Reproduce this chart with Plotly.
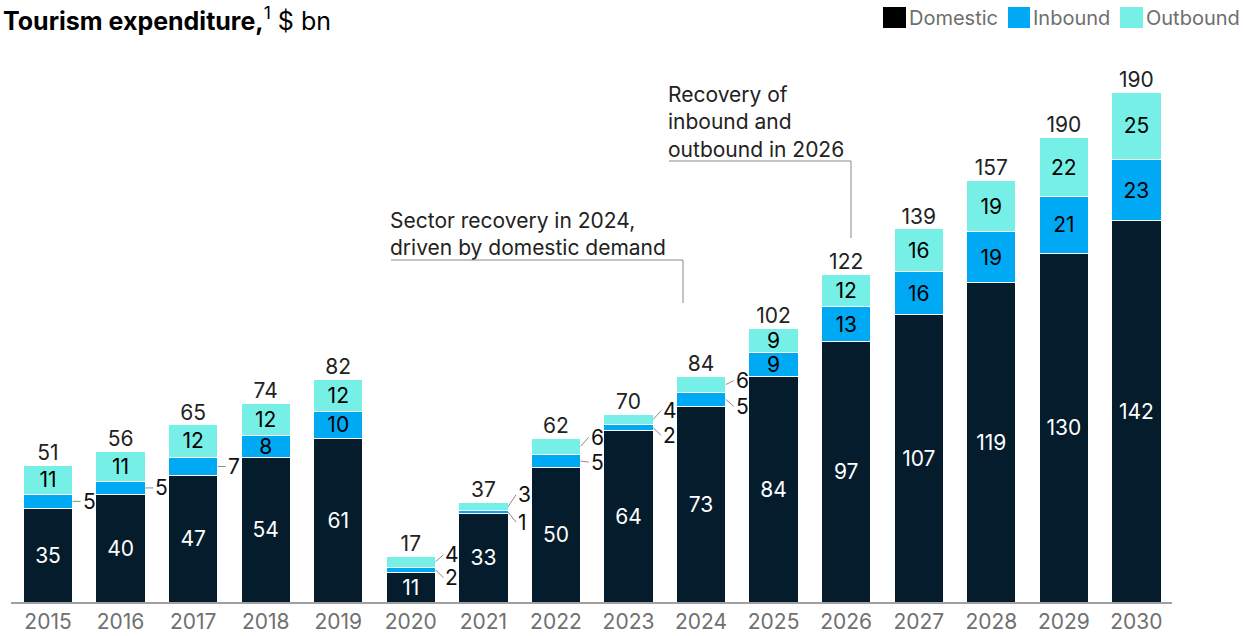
import plotly.graph_objects as go

years = [2015, 2016, 2017, 2018, 2019, 2020, 2021, 2022, 2023, 2024, 2025, 2026, 2027, 2028, 2029, 2030]
domestic = [35, 40, 47, 54, 61, 11, 33, 50, 64, 73, 84, 97, 107, 119, 130, 142]
inbound = [5, 5, 7, 8, 10, 2, 1, 5, 2, 5, 9, 13, 16, 19, 21, 23]
outbound = [11, 11, 12, 12, 12, 4, 3, 6, 4, 6, 9, 12, 16, 19, 22, 25]
total_labels = ["51", "56", "65", "74", "82", "17", "37", "62", "70", "84", "102", "122", "139", "157", "190", "190"]
tick_labels = [str(y) for y in years]

C_DOM = "#051C2C"
C_IN = "#00A9F4"
C_OUT = "#76F0E6"
FONT = "Inter, Liberation Sans, Arial, sans-serif"
FS = 21
BAR_W = 0.68
OUTSIDE_MAX = 7  # segments this small get an outside label with a leader line

# pixel geometry of the plot area
W, H = 1245, 636
ML, MR, MT, MB = 11, 73, 25, 34
PW, PH = W - ML - MR, H - MT - MB


def px(x):
    return (x - ML) / PW


def py(y):
    return (H - MB - y) / PH


def inside_text(vals):
    return [str(v) if v > OUTSIDE_MAX else "" for v in vals]


fig = go.Figure()
for name, vals, col, tcol in [
    ("Domestic", domestic, C_DOM, "white"),
    ("Inbound", inbound, C_IN, "black"),
    ("Outbound", outbound, C_OUT, "black"),
]:
    fig.add_trace(go.Bar(
        x=years, y=vals, name=name, width=BAR_W,
        marker=dict(color=col, line=dict(color="white", width=1)),
        text=inside_text(vals), textposition="inside", insidetextanchor="middle",
        constraintext="none", textangle=0,
        textfont=dict(family=FONT, size=FS, color=tcol),
        hoverinfo="skip", showlegend=False,
    ))

stack_tops = [d + i + o for d, i, o in zip(domestic, inbound, outbound)]
fig.add_trace(go.Scatter(
    x=years, y=stack_tops, text=total_labels, mode="text", textposition="top center",
    textfont=dict(family=FONT, size=FS, color="#222222"), showlegend=False, hoverinfo="skip",
))

# vertical nudges (px) for outside labels, keyed by (year, series)
nudge = {
    (2020, "in"): 8, (2020, "out"): -7,
    (2021, "in"): 10, (2021, "out"): -12,
    (2022, "in"): 1, (2022, "out"): -9,
    (2023, "in"): 8, (2023, "out"): -9,
    (2024, "in"): 7, (2024, "out"): -4,
}

annotations = []
for i, yr in enumerate(years):
    d, b, o = domestic[i], inbound[i], outbound[i]
    for key, val, mid in [("in", b, d + b / 2), ("out", o, d + b + o / 2)]:
        if val <= OUTSIDE_MAX:
            annotations.append(dict(
                x=yr + BAR_W / 2, y=mid, xref="x", yref="y",
                text=str(val), showarrow=True, arrowhead=0, arrowwidth=1,
                arrowcolor="#8a8a8a", ax=8, ay=nudge.get((yr, key), 0),
                xanchor="left", yanchor="middle", standoff=0,
                font=dict(family=FONT, size=FS, color="#111111"),
            ))

# title
annotations.append(dict(
    x=px(1), y=py(19), xref="paper", yref="paper", xanchor="left", yanchor="middle",
    text="<b>Tourism expenditure,</b><sup>1</sup> $ bn", showarrow=False,
    font=dict(family=FONT, size=25, color="#000000"),
))

# legend
legend_items = [("Domestic", "#000000", 883, 906), ("Inbound", C_IN, 1008, 1030), ("Outbound", C_OUT, 1120, 1143)]
shapes = []
for label, col, x0, x1 in legend_items:
    shapes.append(dict(type="rect", xref="paper", yref="paper", x0=px(x0), x1=px(x1),
                       y0=py(28), y1=py(7), fillcolor=col, line=dict(width=0)))
    annotations.append(dict(x=px(x1 + 1), y=py(18), xref="paper", yref="paper",
                            xanchor="left", yanchor="middle", text=label, showarrow=False,
                            font=dict(family=FONT, size=20, color="#6e6e6e")))

# callouts
LINE_C = "#8a8a8a"
annotations.append(dict(
    x=px(388), y=py(262), xref="paper", yref="paper", xanchor="left", yanchor="bottom",
    align="left", showarrow=False, text="Sector recovery in 2024,<br>driven by domestic demand",
    font=dict(family=FONT, size=FS, color="#222222"),
))
shapes.append(dict(type="line", xref="paper", yref="paper", x0=px(391), x1=px(683), y0=py(260), y1=py(260), line=dict(color=LINE_C, width=1)))
shapes.append(dict(type="line", xref="paper", yref="paper", x0=px(683), x1=px(683), y0=py(260), y1=py(303), line=dict(color=LINE_C, width=1)))

annotations.append(dict(
    x=px(666), y=py(164), xref="paper", yref="paper", xanchor="left", yanchor="bottom",
    align="left", showarrow=False, text="Recovery of<br>inbound and<br>outbound in 2026",
    font=dict(family=FONT, size=FS, color="#222222"),
))
shapes.append(dict(type="line", xref="paper", yref="paper", x0=px(669), x1=px(851), y0=py(161), y1=py(161), line=dict(color=LINE_C, width=1)))
shapes.append(dict(type="line", xref="paper", yref="paper", x0=px(851), x1=px(851), y0=py(161), y1=py(238), line=dict(color=LINE_C, width=1)))

fig.update_layout(
    width=W, height=H, barmode="stack", bargap=0.3,
    margin=dict(l=ML, r=MR, t=MT, b=MB, autoexpand=False),
    paper_bgcolor="white", plot_bgcolor="white",
    xaxis=dict(tickvals=years, ticktext=tick_labels, range=[2014.49, 2030.49], automargin=False,
               showline=True, linecolor="#a0a0a0", linewidth=1.5, showgrid=False,
               zeroline=False, ticks="", tickfont=dict(family=FONT, size=FS, color="#707070")),
    yaxis=dict(range=[0, PH / 2.684], visible=False, showgrid=False, zeroline=False, automargin=False),
    annotations=annotations, shapes=shapes, showlegend=False,
)

fig.write_html("out.html", config={"displayModeBar": False},
               post_script="document.body.style.margin='0';")
